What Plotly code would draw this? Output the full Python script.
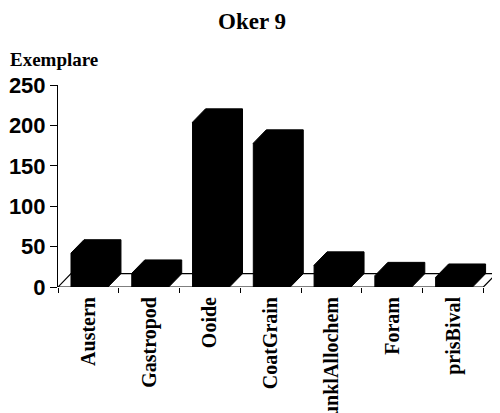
import plotly.graph_objects as go

categories = ["Austern", "Gastropod", "Ooide", "CoatGrain", "dunklAllochem", "Foram", "prisBival"]
values = [42, 17, 204, 178, 27, 14, 12]
y_ticks = [0, 50, 100, 150, 200, 250]

# 3D look parameters (in axis units)
DX = 0.214   # depth shift along x
DY = 16.5    # depth shift along y
BAR_W = 0.608
BAR_OFF = 0.018

serif = "Liberation Serif"
sans = "Liberation Sans"

W, H = 492, 405          # page body has an 8px margin
L, R, T, B = 50, 3, 77, 126
PW, PH = W - L - R, H - T - B

fig = go.Figure()

# floor parallelogram
n = len(categories)
fig.add_trace(go.Scatter(
    x=[-0.5, n - 0.5, n - 0.5 + DX, -0.5 + DX, -0.5],
    y=[0, 0, DY, DY, 0],
    mode="lines", fill="toself", fillcolor="white",
    line=dict(color="black", width=1.2), hoverinfo="skip", showlegend=False,
    cliponaxis=False))

# 3D bars: silhouette of front, top and side faces
xs = [i + BAR_OFF for i in range(n)]
for i, v in enumerate(values):
    x0 = xs[i] - BAR_W / 2
    x1 = xs[i] + BAR_W / 2
    fig.add_trace(go.Scatter(
        x=[x0, x0, x0 + DX, x1 + DX, x1 + DX, x1, x0],
        y=[0, v, v + DY, v + DY, DY, 0, 0],
        mode="lines", fill="toself", fillcolor="black",
        line=dict(color="black", width=1), hoverinfo="skip", showlegend=False,
        cliponaxis=False, name=categories[i]))

fig.update_layout(
    width=W, height=H,
    margin=dict(l=L, r=R, t=T, b=B, autoexpand=False),
    paper_bgcolor="white", plot_bgcolor="white",
    title=dict(text="<b>Oker 9</b>", x=244 / W, xanchor="center", y=1 - 13 / H, yanchor="middle",
               font=dict(family=serif, size=23, color="black")),
    xaxis=dict(range=[-0.5, n - 0.5 + DX + 0.01], tickmode="array", tickvals=list(range(n)),
               ticktext=["<b>%s</b>" % c for c in categories], tickangle=-90,
               tickfont=dict(family=serif, size=20, color="black"),
               ticks="", ticklabelstandoff=5,
               showline=False, showgrid=False, zeroline=False, automargin=False,
               minor=dict(tick0=-0.5, dtick=1, ticks="outside", ticklen=5, tickcolor="black", showgrid=False)),
    yaxis=dict(range=[0, 250], tickmode="array", tickvals=y_ticks,
               ticktext=["<b>%d</b>" % t for t in y_ticks],
               tickfont=dict(family=sans, size=22, color="black"),
               ticks="outside", ticklen=7, tickcolor="black",
               showline=True, linecolor="black", linewidth=1, automargin=False,
               showgrid=False, zeroline=False),
    annotations=[dict(text="<b>Exemplare</b>", xref="paper", yref="paper",
                      x=-L / PW, y=1 + 25 / PH, xanchor="left", yanchor="middle",
                      showarrow=False, font=dict(family=serif, size=19, color="black"))],
)

fig.write_html("out.html")
